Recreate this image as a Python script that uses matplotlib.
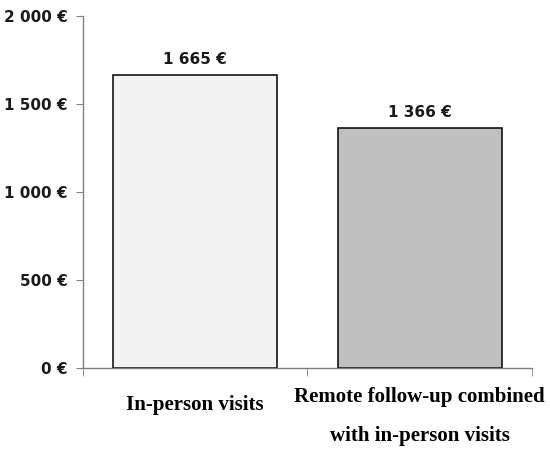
import matplotlib
matplotlib.use('Agg')
import matplotlib.pyplot as plt
import matplotlib.transforms as mtransforms

categories = ['In-person visits', 'Remote follow-up combined\nwith in-person visits']
costs = [1665, 1366]
bar_colors = ['#f2f2f2', '#c0c0c0']
yticks = [0, 500, 1000, 1500, 2000]

def euro(v):
    return '{:,}'.format(v).replace(',', ' ') + ' €'

fig = plt.figure(figsize=(5.5, 4.55), dpi=100)
ax = fig.add_axes([0.151, 0.191, 0.816, 0.774])

x = list(range(len(categories)))
bars = ax.bar(x, costs, width=0.73, color=bar_colors, edgecolor='black', linewidth=1.1)

for b, v in zip(bars, costs):
    ax.text(b.get_x() + b.get_width() / 2, v + 45, euro(v), ha='center', va='bottom',
            fontsize=11, fontweight='bold', family='DejaVu Sans', color='#1a1a1a')

ax.set_xlim(-0.5, 1.5)
ax.set_ylim(0, 2000)
ax.set_yticks(yticks)
ax.set_yticklabels([euro(v) for v in yticks], fontsize=11, fontweight='bold',
                   family='DejaVu Sans', color='#1a1a1a')

# category labels drawn as text, boundaries as minor ticks
ax.set_xticks([])
ax.set_xticks([-0.5, 0.5, 1.5], minor=True)
ax.tick_params(axis='x', which='minor', length=6, direction='out', color='#7f7f7f')
ax.tick_params(axis='y', length=5, direction='out', color='#7f7f7f', pad=6)

trans = mtransforms.blended_transform_factory(ax.transData, ax.transAxes)
label_y = [-0.105, -0.138]
for xi, lab, ly in zip(x, categories, label_y):
    ax.text(xi, ly, lab, transform=trans, ha='center', va='center',
            family='Liberation Serif', fontweight='bold', fontsize=15,
            linespacing=2.3, color='black')

for s in ['top', 'right']:
    ax.spines[s].set_visible(False)
for s in ['left', 'bottom']:
    ax.spines[s].set_color('#7f7f7f')
    ax.spines[s].set_linewidth(1.0)

fig.savefig('out.png', dpi=100)
